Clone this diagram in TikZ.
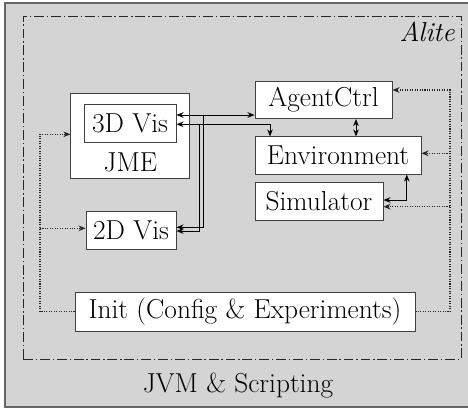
\documentclass[tikz,border=0pt]{standalone}
\usetikzlibrary{positioning}
\usetikzlibrary{calc}
\usetikzlibrary{arrows.meta}

\tikzset{
  box/.style={draw=black!75, fill=white, line width=0.7pt, minimum height=0.93cm, inner sep=0pt},
  link/.style={line width=0.7pt},
  cfg/.style={densely dotted, line width=0.75pt, black!85}
}

\begin{document}
\begin{tikzpicture}[font=\fontsize{19.5}{23}\selectfont, >={Stealth[length=5pt,width=4pt]}]
  \clip (0,0) rectangle (11.7,10.3);
  % JVM and the Alite frame
  \draw[fill=black!17, draw=black!60, line width=1pt] (0.125,0.125) rectangle (12,10.225);
  \draw[black!85, line width=0.6pt, dash pattern=on 7pt off 2pt on 1pt off 2pt] (0.575,1.325) rectangle (11.525,9.9);
  \node[anchor=base east, font=\fontsize{19.5}{23}\selectfont\itshape, inner sep=0pt] (alite) at (11.375,9.26) {Alite};
  \node[anchor=base, inner sep=0pt] (jvm) at (5.95,0.5) {JVM \& Scripting};

  % visualisation
  \node[box, minimum width=2.975cm, minimum height=2.125cm] (jme) at (3.26,6.9125) {};
  \node[box, minimum width=2.3cm] (vis3d) at (3.25,7.2125) {3D Vis};
  \node[anchor=base, inner sep=0pt] (jmetext) at (3.26,6.025) {JME};
  \node[box, minimum width=2.25cm] (vis2d) at (3.275,4.5375) {2D Vis};

  % simulation
  \node[box, minimum width=3.425cm] (agent) at (8.0875,7.8) {AgentCtrl};
  \node[box, minimum width=4.15cm] (env) at (8.45,6.4125) {Environment};
  \node[box, minimum width=3.2cm] (sim) at (7.975,5.2625) {Simulator};

  \node[box, minimum width=8.5cm, minimum height=0.975cm] (init) at (6.125,2.5125) {Init (Config \& Experiments)};

  % bends of the connectors
  \coordinate (aRow) at (5.08,7.425);
  \coordinate (aLow) at (5.08,4.6175);
  \coordinate (bRow) at (4.98,7.1925);
  \coordinate (bLow) at (4.98,4.525);
  \coordinate (bEnv) at (6.75,7.1925);
  \coordinate (ae) at (8.9,7);
  \coordinate (se) at (10.17,5.3);
  \coordinate (rTop) at (11.25,8.05);
  \coordinate (rEnv) at (11.25,6.4675);
  \coordinate (rSim) at (11.25,5.1325);
  \coordinate (lTop) at (1,6.9425);
  \coordinate (l2d) at (1,4.5925);

  \draw[link,<->] (vis3d.east |- aRow) -- (agent.west |- aRow);
  \draw[link,->] (aRow) -- (aLow) -- (vis2d.east |- aLow);
  \draw[link,<->] (vis3d.east |- bRow) -- (bEnv) -- (env.north -| bEnv);
  \draw[link,->] (bRow) -- (bLow) -- (vis2d.east |- bLow);
  \draw[link,<->] (agent.south -| ae) -- (env.north -| ae);
  \draw[link,<->] (sim.east |- se) -| (env.south -| se);

  % configuration
  \draw[cfg,->] (init.east) -| (rTop) -- (agent.east |- rTop);
  \draw[cfg,->] (rEnv) -- (env.east |- rEnv);
  \draw[cfg,->] (rSim) -- (sim.east |- rSim);
  \draw[cfg,->] (init.west) -| (lTop) -- (jme.west |- lTop);
  \draw[cfg,->] (l2d) -- (vis2d.west |- l2d);
\end{tikzpicture}
\end{document}
